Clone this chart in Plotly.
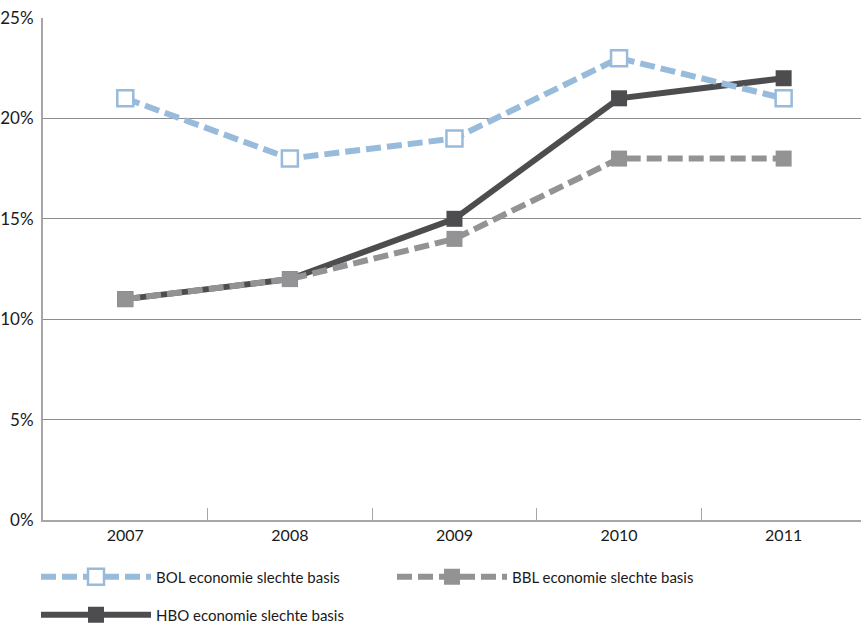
import plotly.graph_objects as go

years = ["2007", "2008", "2009", "2010", "2011"]
bol = [21, 18, 19, 23, 21]
bbl = [11, 12, 14, 18, 18]
hbo = [11, 12, 15, 21, 22]
y_ticks = [0, 5, 10, 15, 20, 25]
y_labels = [f"{v}%" for v in y_ticks]

FONT = "Lato, Liberation Sans Narrow, DejaVu Sans Condensed, sans-serif"
xpos = list(range(len(years)))

fig = go.Figure()
fig.add_trace(go.Scatter(
    x=xpos, y=hbo, name="HBO economie slechte basis", mode="lines+markers",
    line=dict(color="#4d4d4f", width=6),
    marker=dict(symbol="square", size=16, color="#4d4d4f"),
    legend="legend2",
))
fig.add_trace(go.Scatter(
    x=xpos, y=bbl, name="BBL economie slechte basis", mode="lines+markers",
    line=dict(color="#939395", width=6, dash="15px,6px"),
    marker=dict(symbol="square", size=16, color="#939395"),
    legend="legend",
))
fig.add_trace(go.Scatter(
    x=xpos, y=bol, name="BOL economie slechte basis", mode="lines+markers",
    line=dict(color="#98bbdc", width=6, dash="15px,6px"),
    marker=dict(symbol="square", size=16, color="white",
                line=dict(color="#98bbdc", width=2.5)),
    legend="legend",
))

leg_common = dict(
    orientation="h", traceorder="reversed",
    xref="container", yref="container",
    xanchor="left", yanchor="middle",
    entrywidth=231, entrywidthmode="pixels",
    itemwidth=110,
    font=dict(family=FONT, size=15, color="#1a1a1a"),
    bgcolor="rgba(0,0,0,0)",
)

fig.update_layout(
    width=861, height=625,
    margin=dict(l=40, r=0, t=18, b=105),
    paper_bgcolor="white", plot_bgcolor="white",
    font=dict(family=FONT, size=15, color="#1a1a1a"),
    showlegend=True,
    legend=dict(leg_common, x=36 / 861, y=1 - 577 / 625),
    legend2=dict(leg_common, x=36 / 861, y=1 - 615 / 625),
    xaxis=dict(
        range=[-0.5, 4.47], tickvals=xpos, ticktext=years,
        showgrid=False, zeroline=False, ticks="",
        showline=True, linecolor="#a6a6a6", linewidth=2,
        minor=dict(tickvals=[0.5, 1.5, 2.5, 3.5], ticks="inside",
                   ticklen=12, tickcolor="#a6a6a6", tickwidth=1, showgrid=False),
        tickfont=dict(family=FONT, size=16, color="#1a1a1a"),
        fixedrange=True,
    ),
    yaxis=dict(
        range=[0, 25], tickvals=y_ticks, ticktext=y_labels,
        showgrid=True, gridcolor="#8c8c8c", gridwidth=1,
        zeroline=False, showline=True, linecolor="#a6a6a6", linewidth=2,
        ticks="", ticklabelstandoff=4,
        tickfont=dict(family=FONT, size=17, color="#1a1a1a"),
        fixedrange=True,
    ),
)

fig.write_html("out.html", config={"displayModeBar": False},
               post_script="document.body.style.margin='0px';")
